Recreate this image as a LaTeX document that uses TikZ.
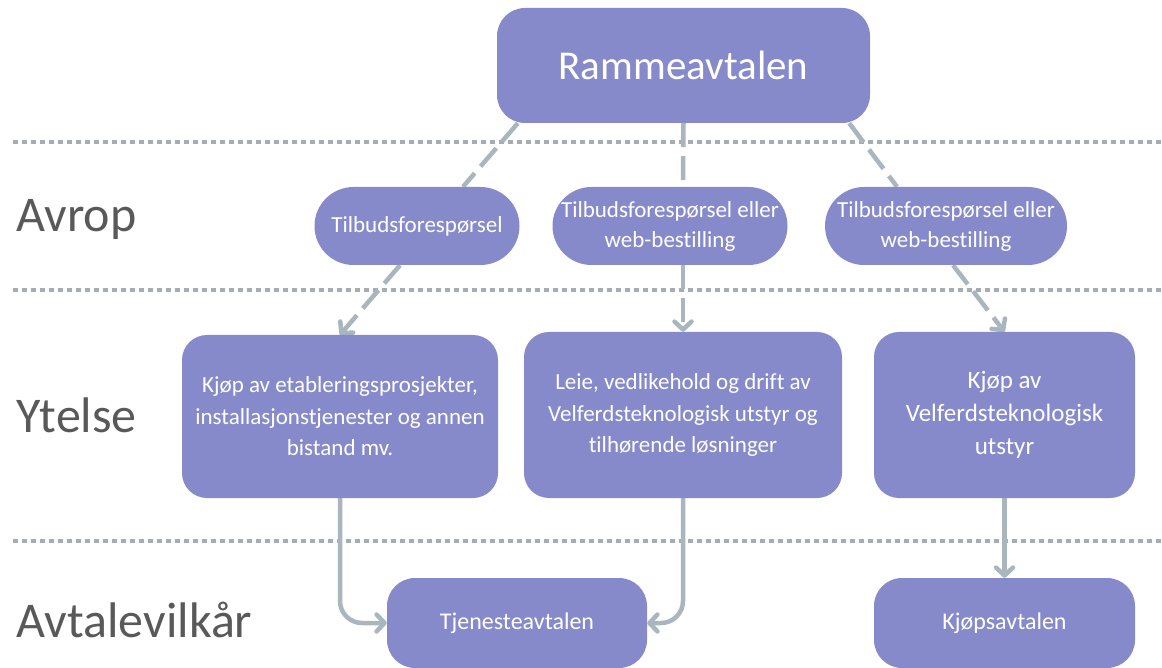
\documentclass[tikz,border=0pt]{standalone}
\usepackage{fontspec}
\setmainfont{Carlito}[RawFeature={-liga;-clig;-calt}]
\usetikzlibrary{arrows.meta,backgrounds}
\definecolor{boxfill}{RGB}{134,138,202}
\definecolor{linkgray}{RGB}{170,182,190}
\definecolor{rulegray}{RGB}{165,172,180}
\definecolor{labelgray}{RGB}{89,89,89}
\tikzset{
  box/.style={rectangle, rounded corners=25pt, fill=boxfill, text=white, align=center, inner sep=0pt},
  pill/.style={box, rounded corners=39pt, minimum height=78pt, font=\fontsize{23}{30}\selectfont},
  level/.style={anchor=base west, text=labelgray, font=\fontsize{50}{60}\selectfont},
  dashlink/.style={draw=linkgray, line width=4.5pt, dash pattern=on 24pt off 9pt},
  link/.style={draw=linkgray, line width=4.5pt, rounded corners=22pt},
  tip/.style={-{Straight Barb[length=8pt,width=17pt,round]}},
  divider/.style={draw=rulegray, line width=4pt, dash pattern=on 5pt off 4pt}
}
\begin{document}
\begin{tikzpicture}[x=1pt,y=-1pt]
\useasboundingbox (0,0) rectangle (1162,668);

\node[level] (Av) at (13,232) {Avrop};
\node[level] (Yt) at (13,432) {Ytelse};
\node[level] (Vk) at (13,637) {Avtalevilkår};

\node[box, minimum width=373pt, minimum height=115pt, rounded corners=28pt,
  font=\fontsize{41}{48}\selectfont] (R) at (683.5,65.5) {Rammeavtalen};

\node[pill, minimum width=205pt] (Ta) at (417,226) {Tilbudsforespørsel};
\node[pill, minimum width=235pt] (Tb) at (670,226) {Tilbudsforespørsel eller\\web-bestilling};
\node[pill, minimum width=242pt] (Tc) at (946,226) {Tilbudsforespørsel eller\\web-bestilling};

\node[box, minimum width=316pt, minimum height=163pt, font=\fontsize{23}{31.5}\selectfont]
  (Ya) at (340,416.5) {Kjøp av etableringsprosjekter,\\installasjonstjenester og annen\\bistand mv.};
\node[box, minimum width=318pt, minimum height=166pt, font=\fontsize{23}{31.5}\selectfont]
  (Yb) at (683,415) {Leie, vedlikehold og drift av\\Velferdsteknologisk utstyr og\\tilhørende løsninger};
\node[box, minimum width=261pt, minimum height=166pt, font=\fontsize{25}{33}\selectfont]
  (Yc) at (1004.5,415) {Kjøp av\\Velferdsteknologisk\\utstyr};

\node[box, minimum width=260pt, minimum height=90pt, rounded corners=28pt,
  font=\fontsize{24}{30}\selectfont] (Tj) at (517,623) {Tjenesteavtalen};
\node[box, minimum width=261pt, minimum height=90pt, rounded corners=28pt,
  font=\fontsize{24}{30}\selectfont] (Kj) at (1004.5,623) {Kjøpsavtalen};

\begin{scope}[on background layer]
\draw[divider] (13,142) -- (1162,142);
\draw[divider] (13,290) -- (1162,290);
\draw[divider] (13,541) -- (1162,541);

\draw[dashlink] ([xshift=21pt]R.south west) -- ([xshift=46pt]Ta.north);
\draw[dashlink] (R.south) -- ([xshift=13pt]Tb.north);
\draw[dashlink] ([xshift=-21pt]R.south east) -- ([xshift=-49pt]Tc.north);

\draw[dashlink, tip] ([xshift=-17pt]Ta.south) -- (Ya.north);
\draw[dashlink, tip] ([xshift=13pt]Tb.south) -- (Yb.north);
\draw[dashlink, tip] ([xshift=7pt]Tc.south) -- (Yc.north);

\draw[link, tip] (Ya.south) |- (Tj.west);
\draw[link, tip] (Yb.south) |- (Tj.east);
\draw[link, tip] (Yc.south) -- (Kj.north);
\end{scope}
\end{tikzpicture}
\end{document}
